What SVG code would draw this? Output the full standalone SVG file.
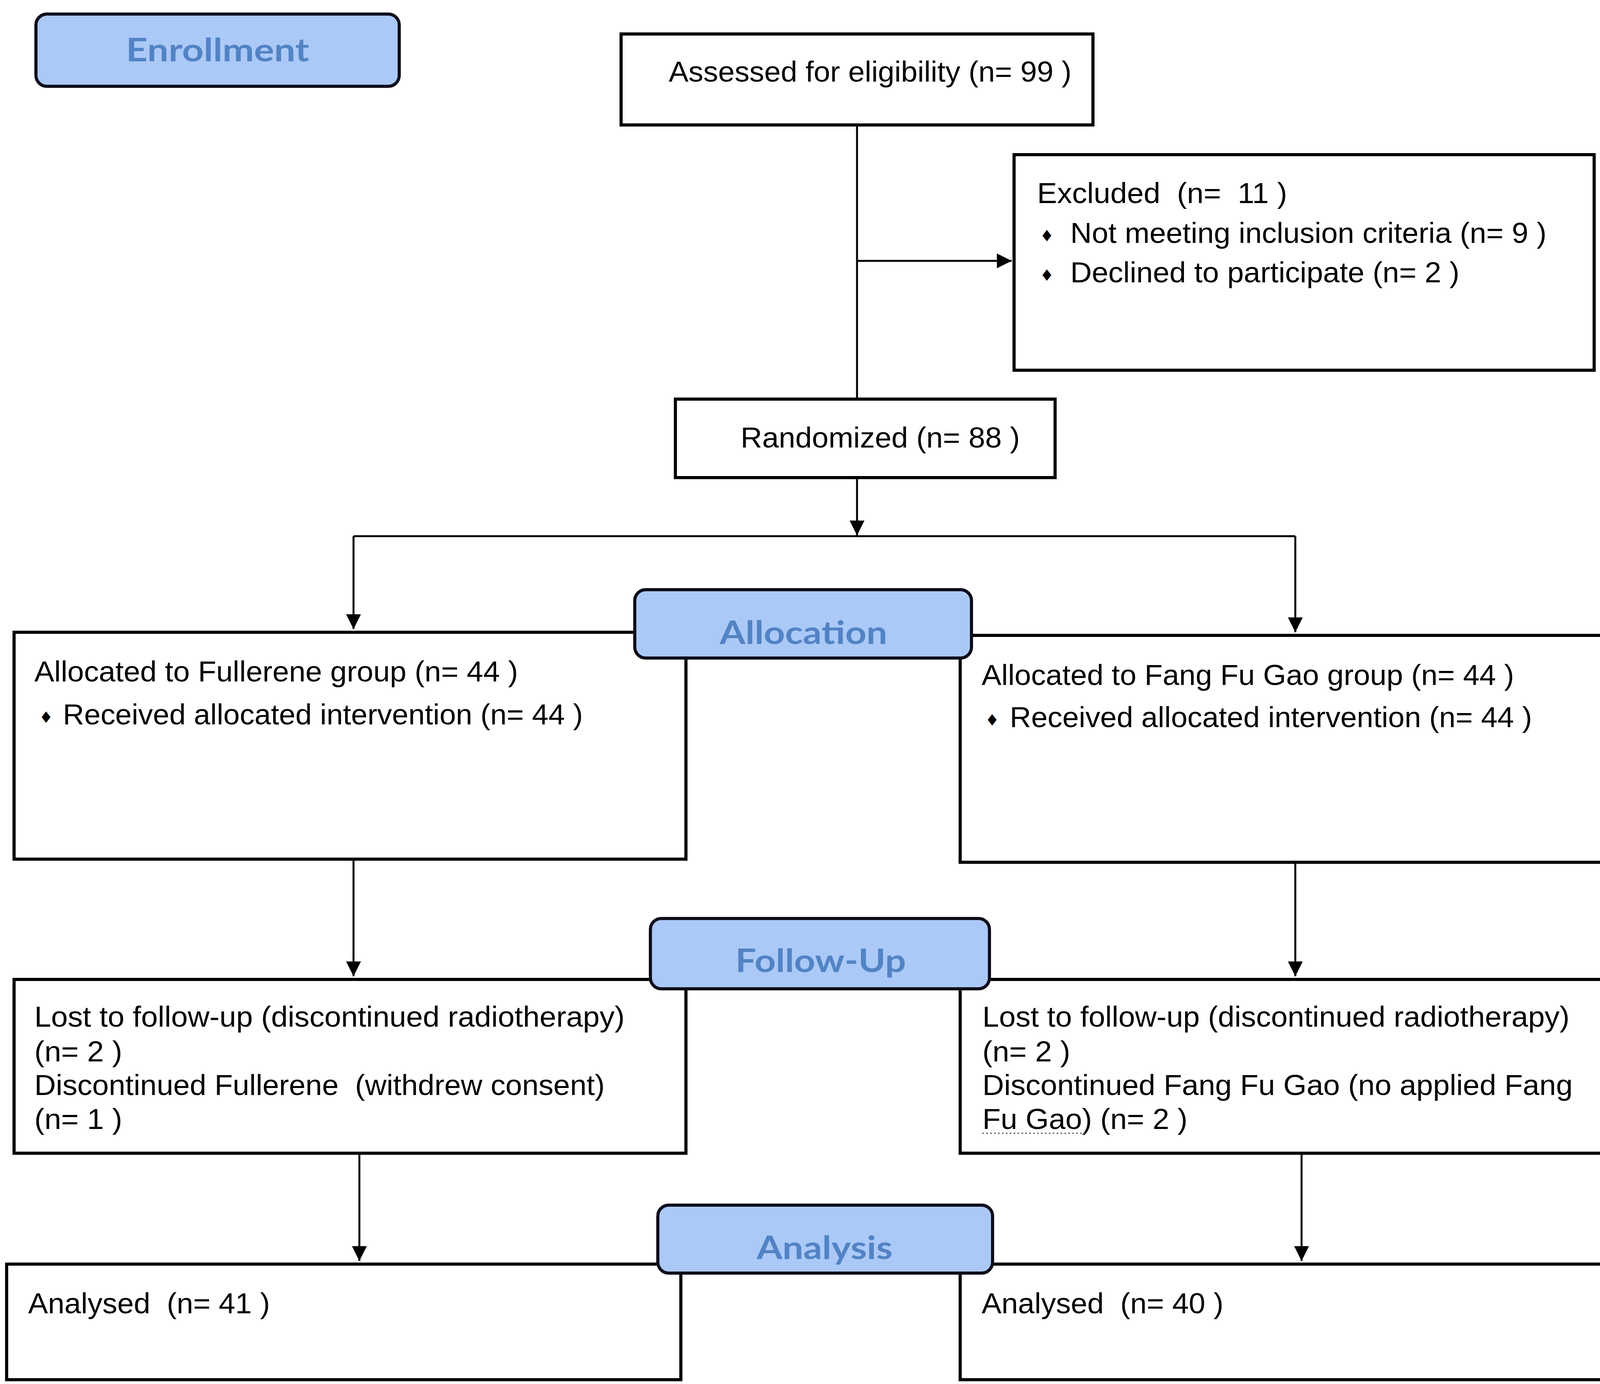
<svg xmlns="http://www.w3.org/2000/svg" width="4200" height="3544" viewBox="0 0 4200 3544">
<style>
.box{fill:#ffffff;stroke:#000000;stroke-width:8}
.lbl{fill:#abc9f7;stroke:#0d0d1a;stroke-width:8}
.lt{font-family:"Lato","Open Sans",sans-serif;font-weight:bold;font-size:82px;fill:#5283c4;text-anchor:middle}
.t{font-family:"Liberation Sans",Arial,sans-serif;font-size:74px;fill:#000000}
.b{font-family:"DejaVu Sans",sans-serif;font-size:40px;fill:#000000}
.c{fill:none;stroke:#000000;stroke-width:5}
</style>
<defs>
<marker id="ah" viewBox="0 0 10 10" refX="10" refY="5" markerUnits="userSpaceOnUse" markerWidth="40" markerHeight="38" orient="auto">
<path d="M0,0 L10,5 L0,10 z" fill="#000000"/>
</marker>
</defs>
<rect x="0" y="0" width="4200" height="3544" fill="#ffffff"/>

<g id="connectors">
<path class="c" d="M2194,324 V1018"/>
<path class="c" d="M2194,668 H2590" marker-end="url(#ah)"/>
<path class="c" d="M2194,1227 V1371" marker-end="url(#ah)"/>
<path class="c" d="M905,1373 H3316"/>
<path class="c" d="M905,1373 V1611" marker-end="url(#ah)"/>
<path class="c" d="M3316,1373 V1619" marker-end="url(#ah)"/>
<path class="c" d="M905,2204 V2500" marker-end="url(#ah)"/>
<path class="c" d="M3316,2212 V2500" marker-end="url(#ah)"/>
<path class="c" d="M920,2957 V3229" marker-end="url(#ah)"/>
<path class="c" d="M3332,2957 V3229" marker-end="url(#ah)"/>
</g>

<g id="assessed">
<rect class="box" x="1590" y="87" width="1208" height="233"/>
<text class="t" x="1712" y="209" textLength="1031" lengthAdjust="spacingAndGlyphs">Assessed for eligibility (n= 99 )</text>
</g>

<g id="excluded">
<rect class="box" x="2596" y="396" width="1485" height="552"/>
<text class="t" x="2655" y="520" textLength="640" lengthAdjust="spacingAndGlyphs" xml:space="preserve">Excluded  (n=  11 )</text>
<text class="b" x="2662" y="618">♦</text>
<text class="t" x="2740" y="622" textLength="1219" lengthAdjust="spacingAndGlyphs">Not meeting inclusion criteria (n= 9 )</text>
<text class="b" x="2662" y="719">♦</text>
<text class="t" x="2740" y="723" textLength="996" lengthAdjust="spacingAndGlyphs">Declined to participate (n= 2 )</text>
</g>

<g id="randomized">
<rect class="box" x="1729" y="1022" width="972" height="201"/>
<text class="t" x="1896" y="1146" textLength="715" lengthAdjust="spacingAndGlyphs">Randomized (n= 88 )</text>
</g>

<g id="alloc-left">
<rect class="box" x="36" y="1619" width="1720" height="581"/>
<text class="t" x="88" y="1745" textLength="1238" lengthAdjust="spacingAndGlyphs">Allocated to Fullerene group (n= 44 )</text>
<text class="b" x="100" y="1851">♦</text>
<text class="t" x="161" y="1855" textLength="1331" lengthAdjust="spacingAndGlyphs">Received allocated intervention (n= 44 )</text>
</g>

<g id="alloc-right">
<rect class="box" x="2458" y="1627" width="1719" height="581"/>
<text class="t" x="2513" y="1754" textLength="1363" lengthAdjust="spacingAndGlyphs">Allocated to Fang Fu Gao group (n= 44 )</text>
<text class="b" x="2522" y="1858">♦</text>
<text class="t" x="2585" y="1862" textLength="1337" lengthAdjust="spacingAndGlyphs">Received allocated intervention (n= 44 )</text>
</g>

<g id="followup-left">
<rect class="box" x="36" y="2508" width="1720" height="445"/>
<text class="t" x="88" y="2629" textLength="1511" lengthAdjust="spacingAndGlyphs">Lost to follow-up (discontinued radiotherapy)</text>
<text class="t" x="88" y="2718" textLength="225" lengthAdjust="spacingAndGlyphs">(n= 2 )</text>
<text class="t" x="88" y="2804" textLength="1460" lengthAdjust="spacingAndGlyphs" xml:space="preserve">Discontinued Fullerene  (withdrew consent)</text>
<text class="t" x="88" y="2891" textLength="225" lengthAdjust="spacingAndGlyphs">(n= 1 )</text>
</g>

<g id="followup-right">
<rect class="box" x="2458" y="2508" width="1720" height="445"/>
<text class="t" x="2515" y="2629" textLength="1503" lengthAdjust="spacingAndGlyphs">Lost to follow-up (discontinued radiotherapy)</text>
<text class="t" x="2515" y="2718" textLength="225" lengthAdjust="spacingAndGlyphs">(n= 2 )</text>
<text class="t" x="2515" y="2804" textLength="1511" lengthAdjust="spacingAndGlyphs">Discontinued Fang Fu Gao (no applied Fang</text>
<text class="t" x="2515" y="2891" textLength="525" lengthAdjust="spacingAndGlyphs">Fu Gao) (n= 2 )</text>
<path d="M2515,2902 H2778" fill="none" stroke="#555555" stroke-width="3" stroke-dasharray="4,6"/>
</g>

<g id="analysed-left">
<rect class="box" x="17" y="3237" width="1726" height="296"/>
<text class="t" x="72" y="3363" textLength="619" lengthAdjust="spacingAndGlyphs" xml:space="preserve">Analysed  (n= 41 )</text>
</g>

<g id="analysed-right">
<rect class="box" x="2458" y="3237" width="1714" height="296"/>
<text class="t" x="2513" y="3363" textLength="619" lengthAdjust="spacingAndGlyphs" xml:space="preserve">Analysed  (n= 40 )</text>
</g>

<g id="label-enrollment">
<rect class="lbl" x="92" y="36" width="930" height="185" rx="28"/>
<text class="lt" x="557" y="157" textLength="469" lengthAdjust="spacingAndGlyphs">Enrollment</text>
</g>

<g id="label-allocation">
<rect class="lbl" x="1625" y="1510" width="862" height="175" rx="28"/>
<text class="lt" x="2057" y="1649" textLength="429" lengthAdjust="spacingAndGlyphs">Allocation</text>
</g>

<g id="label-followup">
<rect class="lbl" x="1665" y="2352" width="868" height="180" rx="28"/>
<text class="lt" x="2101" y="2489" textLength="437" lengthAdjust="spacingAndGlyphs">Follow-Up</text>
</g>

<g id="label-analysis">
<rect class="lbl" x="1684" y="3086" width="857" height="174" rx="28"/>
<text class="lt" x="2111" y="3224" textLength="348" lengthAdjust="spacingAndGlyphs">Analysis</text>
</g>
</svg>
